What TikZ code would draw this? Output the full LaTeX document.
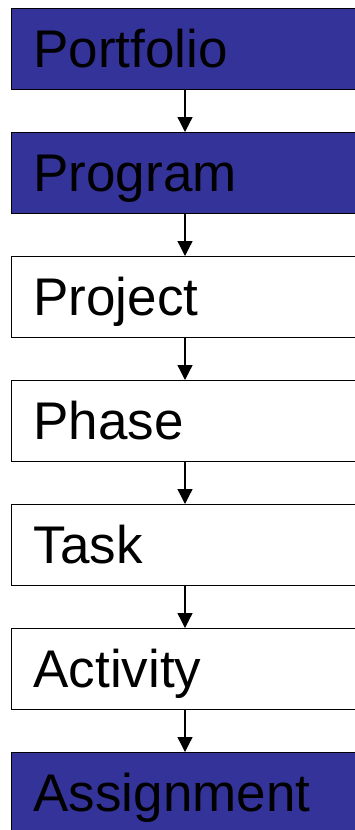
\documentclass[tikz,border=0pt]{standalone}
\usepackage{fontspec}
\setmainfont{Liberation Sans}
\usetikzlibrary{arrows.meta, positioning}
\definecolor{levelblue}{RGB}{51,51,153}

\begin{document}
\begin{tikzpicture}[x=1pt, y=1pt,
    level/.style={draw=black, line width=1pt, rectangle, anchor=north west,
        minimum height=81pt, text width=330pt, inner xsep=22pt, align=left,
        text height=37pt, text depth=0pt,
        font=\fontsize{53}{53}\selectfont},
    filled/.style={level, fill=levelblue},
    plain/.style={level, fill=white},
    link/.style={line width=1.3pt, arrows={-Triangle[length=15pt, width=15pt]}},
    node distance=42pt]
    \useasboundingbox (0,0) rectangle (355,-830);

    % Levels, top to bottom
    \node[filled] (portfolio) at (11,-8) {Portfolio};
    \node[filled, below=of portfolio.south west, anchor=north west] (program) {Program};
    \node[plain, below=of program.south west, anchor=north west] (project) {Project};
    \node[plain, below=of project.south west, anchor=north west] (phase) {Phase};
    \node[plain, below=of phase.south west, anchor=north west] (task) {Task};
    \node[plain, below=of task.south west, anchor=north west] (activity) {Activity};
    \node[filled, below=of activity.south west, anchor=north west] (assignment) {Assignment};

    % Arrows
    \foreach \a/\b in {portfolio/program, program/project, project/phase,
                       phase/task, task/activity, activity/assignment}
        \draw[link] ([xshift=174pt]\a.south west) -- ([xshift=174pt]\b.north west);
\end{tikzpicture}
\end{document}
